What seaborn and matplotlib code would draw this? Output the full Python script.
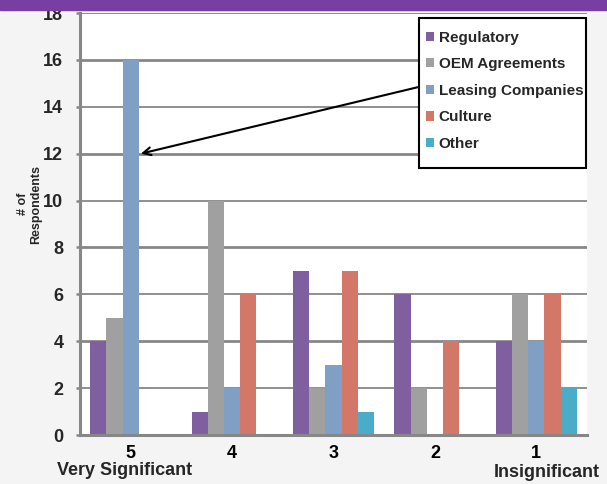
import matplotlib
matplotlib.use("Agg")
import matplotlib.pyplot as plt
from matplotlib.patches import Rectangle
import pandas as pd
import seaborn as sns

# Survey answers: how significant each factor is (5 = very significant, 1 = insignificant)
ratings = ["5", "4", "3", "2", "1"]
factors = ["Regulatory", "OEM Agreements", "Leasing Companies", "Culture", "Other"]
regulatory = [4, 1, 7, 6, 4]
oem_agreements = [5, 10, 2, 2, 6]
leasing_companies = [16, 2, 3, 0, 4]
culture = [0, 6, 7, 4, 6]
other = [0, 0, 1, 0, 2]
colors = ["#7f5f9f", "#a0a0a0", "#7f9fc5", "#d37868", "#4aacc6"]
y_ticks = [0, 2, 4, 6, 8, 10, 12, 14, 16, 18]

series = [regulatory, oem_agreements, leasing_companies, culture, other]
rows = []
for name, vals in zip(factors, series):
    for r, v in zip(ratings, vals):
        rows.append({"rating": r, "respondents": v, "factor": name})
df = pd.DataFrame(rows)

sns.set_theme(style="white")
plt.rcParams["font.family"] = ["Liberation Sans", "DejaVu Sans"]
plt.rcParams["font.weight"] = "bold"

fig = plt.figure(figsize=(6.07, 4.84), dpi=100, facecolor="#f4f4f4")
ax = fig.add_axes([80 / 607, 1 - 435 / 484, 507 / 607, 422 / 484])
ax.set_facecolor("white")

# header band
fig.patches.append(Rectangle((0, 1 - 10 / 484), 1, 10 / 484, transform=fig.transFigure,
                             color="#763fa1", zorder=5))

grid_col = "#878787"
for i, t in enumerate(y_ticks[1:]):
    ax.axhline(t, color=grid_col, lw=2.0 if i % 2 else 1.3, zorder=0)

sns.barplot(data=df, x="rating", y="respondents", hue="factor", order=ratings,
            hue_order=factors, palette=colors, saturation=1, width=0.8,
            edgecolor="none", linewidth=0, ax=ax, zorder=2)

ax.set_ylim(0, 18)
ax.set_xlim(-0.5, 4.5)
ax.set_yticks(y_ticks)
ax.set_yticklabels([str(t) for t in y_ticks], fontsize=13, fontweight="bold")
ax.set_xticks(range(len(ratings)))
ax.set_xticklabels(ratings, fontsize=13, fontweight="bold")
ax.set_xticks([i - 0.5 for i in range(len(ratings) + 1)], minor=True)
ax.tick_params(axis="x", which="major", length=0, pad=7, colors="black")
ax.tick_params(axis="x", which="minor", length=3.5, width=1.5, color=grid_col, direction="out")
ax.tick_params(axis="y", length=3, width=1.8, color=grid_col, pad=9, left=True)
ax.set_xlabel("")

for side in ["top", "right"]:
    ax.spines[side].set_visible(False)
for side in ["left", "bottom"]:
    ax.spines[side].set_color(grid_col)
    ax.spines[side].set_linewidth(2.2)

ax.set_ylabel("# of\nRespondents", fontsize=9, fontweight="bold", linespacing=1.1)
ax.yaxis.set_label_coords(-0.075, 0.547)

ax.text(-0.056, -0.083, "Very Significant", transform=ax.get_xaxis_transform(),
        ha="center", va="center", fontsize=13, fontweight="bold", clip_on=False)
ax.text(4.1, -0.088, "Insignificant", transform=ax.get_xaxis_transform(),
        ha="center", va="center", fontsize=13, fontweight="bold", clip_on=False)

# legend box drawn as its own frame, entries placed inside it
ax.add_patch(Rectangle((0.669, 0.633), 0.329, 0.355, transform=ax.transAxes,
                       facecolor="white", edgecolor="black", lw=1.5, zorder=6,
                       clip_on=False))
leg = ax.legend(loc="upper left", bbox_to_anchor=(0.682, 0.958), borderaxespad=0,
                fontsize=11, frameon=False, handlelength=0.55,
                handleheight=0.55, handletextpad=0.3, labelspacing=0.82,
                borderpad=0, title=None)
for txt in leg.get_texts():
    txt.set_fontweight("bold")
leg.set_zorder(7)

ax.annotate("", xy=(0.1, 12), xycoords="data", xytext=(0.669, 0.825),
            textcoords="axes fraction",
            arrowprops=dict(arrowstyle="->", color="black", lw=1.5,
                            mutation_scale=14, shrinkA=0, shrinkB=0),
            zorder=5)

fig.savefig("out.png", dpi=100, facecolor=fig.get_facecolor())
